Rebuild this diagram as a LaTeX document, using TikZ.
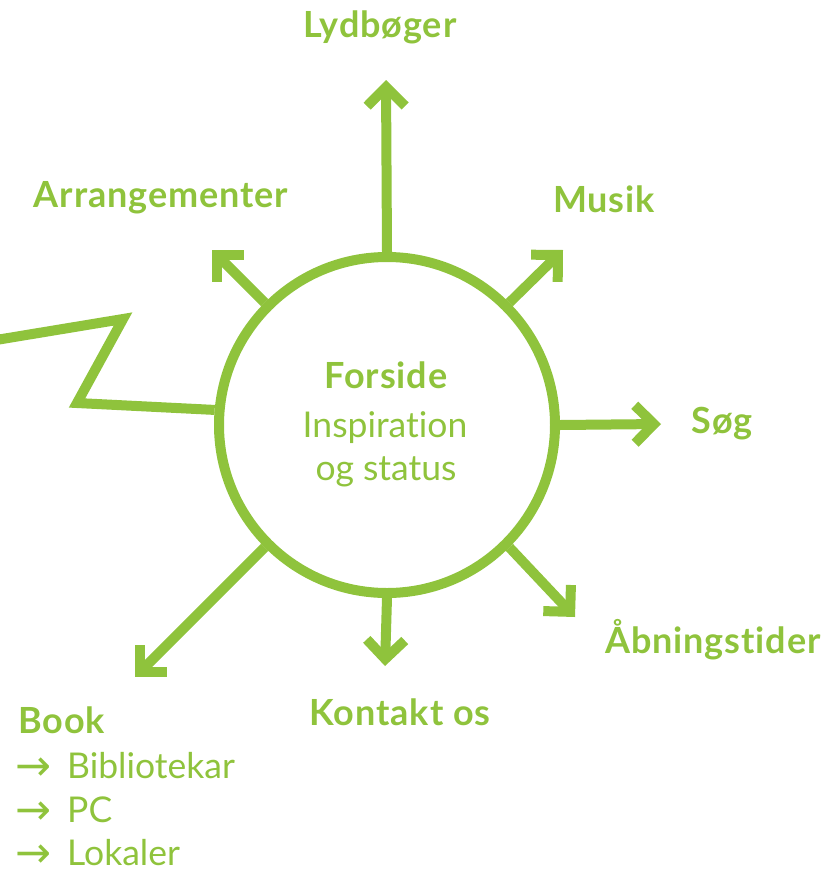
\documentclass[tikz,border=0pt]{standalone}
\usepackage{fontspec}
\setmainfont{Lato}[Ligatures=NoCommon, BoldFeatures={LetterSpace=2.5}]
\newfontfamily\arrowfont{DejaVu Sans}
\usetikzlibrary{arrows.meta}
\definecolor{lg}{RGB}{143,195,60}
\begin{document}
\begin{tikzpicture}[x=1pt,y=-1pt,
  conn/.style={draw=lg, line width=10pt, line cap=butt,
    -{Straight Barb[length=19pt,width=38pt,line cap=butt,line join=miter]}},
  lbl/.style={text=lg, inner sep=0pt, anchor=base, font=\fontsize{36}{42}\selectfont\bfseries},
  reg/.style={text=lg, inner sep=0pt, anchor=base, font=\fontsize{35.5}{42}\selectfont},
  listitem/.style={text=lg, inner sep=0pt, anchor=base west, font=\fontsize{35.5}{42}\selectfont},
  listarrow/.style={text=lg, inner sep=0pt, anchor=base west, text depth=0pt, text height=20pt,
    font=\fontsize{43}{48}\arrowfont}]
\useasboundingbox (0,0) rectangle (829,873);
\node[draw=lg, line width=10pt, circle, minimum size=336pt, inner sep=0pt] (c) at (387,425) {};
% centre text
\node[lbl] (forside) at (386,388) {Forside};
\node[reg] (insp) at (385,437) {Inspiration};
\node[reg] (ogst) at (386,480) {og status};
% tips
\coordinate (tLyd) at (386,80);
\coordinate (tMus) at (563,250);
\coordinate (tArr) at (212,250);
\coordinate (tSog) at (661,424);
\coordinate (tAab) at (575,617);
\coordinate (tKon) at (385,666);
\coordinate (tBook) at (135,677);
\draw[conn] (c.90) -- (tLyd);
\draw[conn] (c.45) -- (tMus);
\draw[conn] (c.135) -- (tArr);
\draw[conn] (c.0) -- (tSog);
\draw[conn] (c.-45) -- (tAab);
\draw[conn] (c.-90) -- (tKon);
\draw[conn] (c.-135) -- (tBook);
% zigzag
\coordinate (z1) at (77,403);
\coordinate (z2) at (123,319);
\coordinate (z3) at (-10,341);
\draw[draw=lg, line width=10pt, line join=miter, miter limit=10] (c.175) -- (z1) -- (z2) -- (z3);
% labels
\node[lbl] (lyd) at (380,37) {Lydbøger};
\node[lbl] (arr) at (161,207) {Arrangementer};
\node[lbl] (mus) at (604,212) {Musik};
\node[lbl] (sog) at (722,433) {Søg};
\node[lbl] (aab) at (713,653) {Åbningstider};
\node[lbl] (kon) at (400,725) {Kontakt os};
\node[lbl, anchor=base west] (book) at (18,733) {Book};
\node[listarrow] (a1) at (15,780) {→};
\node[listitem] (b1) at (67,778) {Bibliotekar};
\node[listarrow] (a2) at (15,824) {→};
\node[listitem] (b2) at (67,822) {PC};
\node[listarrow] (a3) at (15,867) {→};
\node[listitem] (b3) at (67,865) {Lokaler};
\end{tikzpicture}
\end{document}
